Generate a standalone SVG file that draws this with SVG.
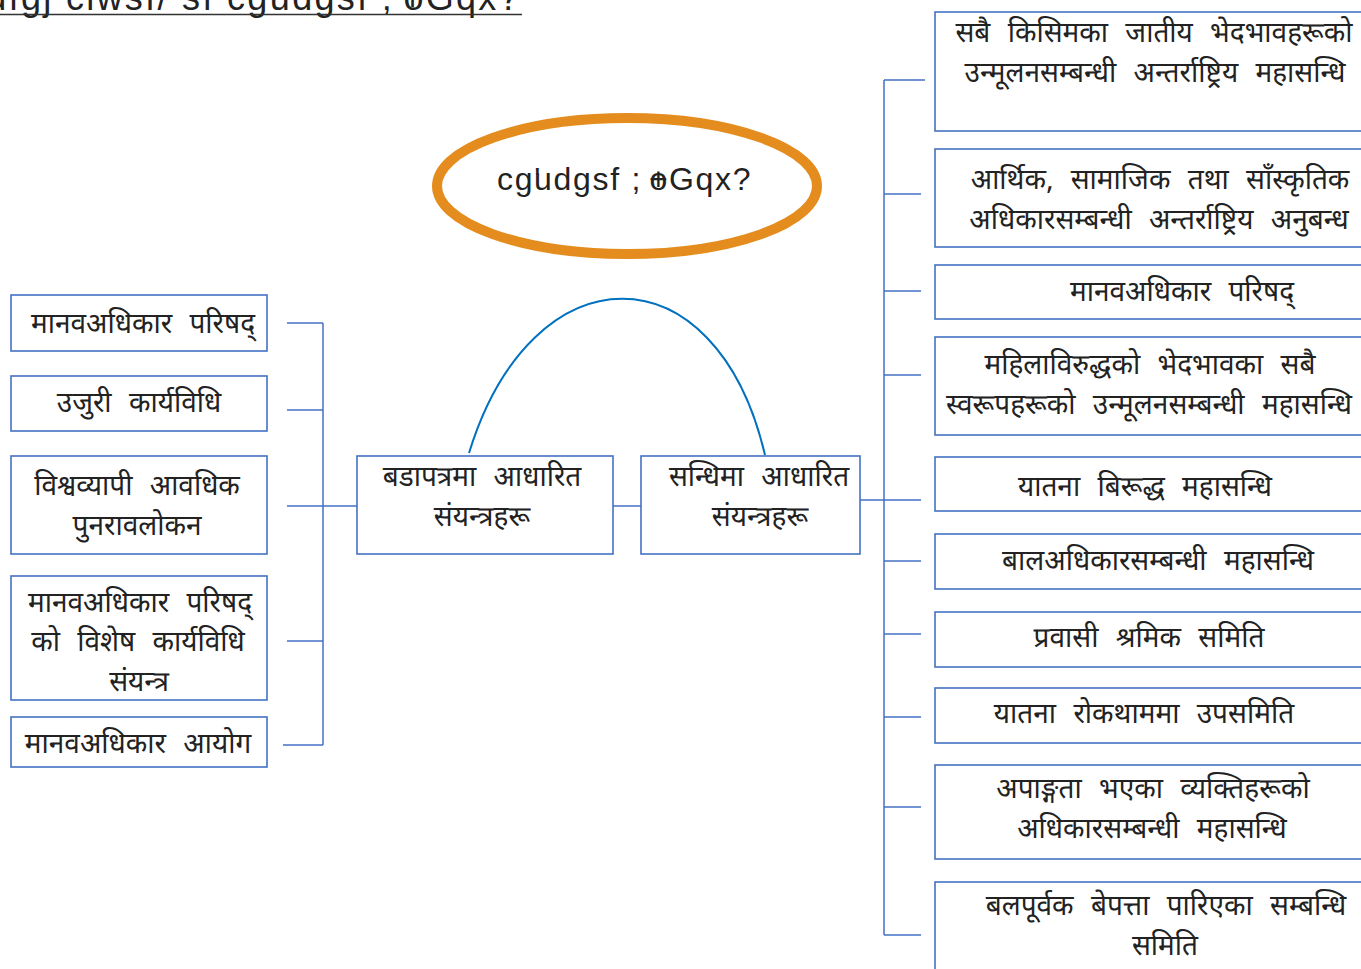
<svg xmlns="http://www.w3.org/2000/svg" width="1361" height="969" viewBox="0 0 1361 969">
<style>
.box{fill:#fff;stroke:#4472C4;stroke-width:1.6}
.con{fill:none;stroke:#4472C4;stroke-width:1.5}
.dv{font-family:"Noto Sans Devanagari","Noto Serif Devanagari","Lohit Devanagari","Kalimati","Mangal","Noto Sans",sans-serif;font-size:28px;word-spacing:10px;fill:#222;text-anchor:middle}
.lat{font-family:"Liberation Sans",Arial,sans-serif;font-size:32px;fill:#222;letter-spacing:1.7px}
</style>
<rect width="1361" height="969" fill="#fff"/>
<g id="title">
<text class="lat" x="521" y="10" text-anchor="end" style="font-size:36px;letter-spacing:2.3px" dx="0 0 0 0 0 0 0 0 0 0 0 0 0 0 0 0 0 0 -9 0 0 0 0 0 0 8 -22">dfgj clwsf/ sf cg'udgsf ;+oGqx?</text>
<line x1="0" y1="14.5" x2="522" y2="14.5" stroke="#333" stroke-width="1.5"/>
</g>
<g id="central">
<ellipse cx="627" cy="186" rx="190" ry="68" fill="#fff" stroke="#E48D1E" stroke-width="10"/>
<text class="lat" x="497" y="190" dx="0 0 0 -8 0 0 0 0 0 0 7 -20">cg'udgsf ;+oGqx?</text>
</g>
<g id="connectors">
<path d="M469 453 C532 248 716 246 765 455" fill="none" stroke="#0070C0" stroke-width="2"/>
<path class="con" d="M323 323 V745 M287 323 H323 M287 410 H323 M287 506 H357 M287 641 H323 M283 745 H323"/>
<path class="con" d="M613 506 H641 M860 500 H921"/>
<path class="con" d="M884 80 V935 M884 80 H925 M884 194 H921 M884 291 H921 M884 375 H921 M884 561 H921 M884 634 H921 M884 717 H921 M884 807 H921 M884 935 H921"/>
</g>
<g id="l1"><rect class="box" x="11" y="295" width="256" height="56"/><text class="dv" x="143" y="333">मानवअधिकार परिषद्</text></g>
<g id="l2"><rect class="box" x="11" y="376" width="256" height="55"/><text class="dv" x="139" y="412">उजुरी कार्यविधि</text></g>
<g id="l3"><rect class="box" x="11" y="456" width="256" height="98"/><text class="dv" x="137" y="495">विश्वव्यापी आवधिक</text><text class="dv" x="137" y="535">पुनरावलोकन</text></g>
<g id="l4"><rect class="box" x="11" y="576" width="256" height="124"/><text class="dv" x="140" y="612">मानवअधिकार परिषद्</text><text class="dv" x="138" y="651">को विशेष कार्यविधि</text><text class="dv" x="139" y="691">संयन्त्र</text></g>
<g id="l5"><rect class="box" x="11" y="717" width="256" height="50"/><text class="dv" x="138" y="753">मानवअधिकार आयोग</text></g>
<g id="m1"><rect class="box" x="357" y="456" width="256" height="98"/><text class="dv" x="482" y="486">बडापत्रमा आधारित</text><text class="dv" x="482" y="526">संयन्त्रहरू</text></g>
<g id="m2"><rect class="box" x="641" y="456" width="219" height="98"/><text class="dv" x="759" y="486">सन्धिमा आधारित</text><text class="dv" x="760" y="526">संयन्त्रहरू</text></g>
<g id="r1"><rect class="box" x="935" y="12" width="440" height="119"/><text class="dv" x="1154" y="42">सबै किसिमका जातीय भेदभावहरूको</text><text class="dv" x="1155" y="82">उन्मूलनसम्बन्धी अन्तर्राष्ट्रिय महासन्धि</text></g>
<g id="r2"><rect class="box" x="935" y="149" width="440" height="98"/><text class="dv" x="1160" y="189">आर्थिक, सामाजिक तथा साँस्कृतिक</text><text class="dv" x="1159" y="229">अधिकारसम्बन्धी अन्तर्राष्ट्रिय अनुबन्ध</text></g>
<g id="r3"><rect class="box" x="935" y="265" width="440" height="54"/><text class="dv" x="1182" y="301">मानवअधिकार परिषद्</text></g>
<g id="r4"><rect class="box" x="935" y="337" width="440" height="98"/><text class="dv" x="1150" y="374">महिलाविरुद्धको भेदभावका सबै</text><text class="dv" x="1149" y="414">स्वरूपहरूको उन्मूलनसम्बन्धी महासन्धि</text></g>
<g id="r5"><rect class="box" x="935" y="457" width="440" height="54"/><text class="dv" x="1145" y="496">यातना बिरूद्ध महासन्धि</text></g>
<g id="r6"><rect class="box" x="935" y="534" width="440" height="55"/><text class="dv" x="1158" y="570">बालअधिकारसम्बन्धी महासन्धि</text></g>
<g id="r7"><rect class="box" x="935" y="612" width="440" height="55"/><text class="dv" x="1149" y="647">प्रवासी श्रमिक समिति</text></g>
<g id="r8"><rect class="box" x="935" y="688" width="440" height="55"/><text class="dv" x="1144" y="723">यातना रोकथाममा उपसमिति</text></g>
<g id="r9"><rect class="box" x="935" y="765" width="440" height="94"/><text class="dv" x="1153" y="798">अपाङ्गता भएका व्यक्तिहरूको</text><text class="dv" x="1152" y="838">अधिकारसम्बन्धी महासन्धि</text></g>
<g id="r10"><rect class="box" x="935" y="882" width="440" height="100"/><text class="dv" x="1166" y="915">बलपूर्वक बेपत्ता पारिएका सम्बन्धि</text><text class="dv" x="1165" y="955">समिति</text></g>
</svg>
